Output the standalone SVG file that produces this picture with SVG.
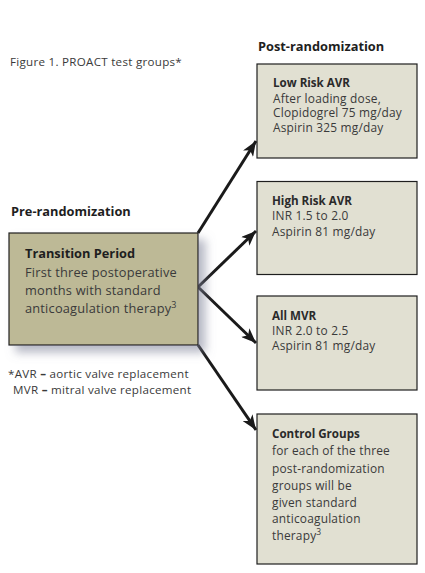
<svg xmlns="http://www.w3.org/2000/svg" width="425" height="573" viewBox="0 0 425 573">
<style>
text{font-family:"Open Sans","Noto Sans","Liberation Sans",sans-serif;fill:#3a3a3a}
.h{font-weight:bold;fill:#1e1e1e;font-size:12.8px}
.hb{font-weight:bold;fill:#2a2a2a;font-size:11.6px}
.b{font-size:11.9px;letter-spacing:0.2px}
.t{font-size:12.8px;letter-spacing:0.2px}
.s{font-size:11.6px;letter-spacing:0.28px}
.post{fill:#e1e0d2;stroke:#1e1e1e;stroke-width:1.2}
.pre{fill:#bdb996;stroke:#1e1e1e;stroke-width:1.2}
.c{stroke:#1a1a1a;stroke-width:3;fill:none;marker-end:url(#ah)}
</style>
<defs>
<marker id="ah" markerUnits="userSpaceOnUse" markerWidth="16" markerHeight="12" refX="15" refY="6" orient="auto">
<path d="M0,0 L15,6 L0,12 L4,6 Z" fill="#1a1a1a"/>
</marker>
<filter id="sh" x="-10%" y="-10%" width="130%" height="140%">
<feGaussianBlur in="SourceAlpha" stdDeviation="5"/>
<feOffset dx="7" dy="7" result="o"/>
<feFlood flood-color="#7c8096" flood-opacity="0.55"/>
<feComposite in2="o" operator="in"/>
<feMerge><feMergeNode/><feMergeNode in="SourceGraphic"/></feMerge>
</filter>
</defs>
<rect width="425" height="573" fill="#ffffff"/>
<text class="s" x="10" y="66">Figure 1. PROACT test groups*</text>
<text class="h" x="258" y="51">Post-randomization</text>
<text class="h" x="11" y="216">Pre-randomization</text>
<g id="connectors">
<line class="c" x1="198" y1="233" x2="256" y2="141"/>
<line class="c" x1="198" y1="287" x2="256" y2="231"/>
<line class="c" x1="198" y1="287" x2="256" y2="343"/>
<line class="c" x1="198" y1="345" x2="256" y2="430"/>
</g>
<g id="transition">
<rect class="pre" x="9" y="233" width="189" height="112" filter="url(#sh)"/>
<text class="h" x="25" y="258">Transition Period</text>
<text class="t" x="25" y="277">First three postoperative</text>
<text class="t" x="25" y="295">months with standard</text>
<text class="t" x="25" y="313">anticoagulation therapy<tspan font-size="9" dy="-5">3</tspan></text>
</g>
<g id="footnote">
<text class="s" x="8" y="378">*AVR <tspan font-weight="bold">–</tspan> aortic valve replacement</text>
<text class="s" x="13" y="394">MVR <tspan font-weight="bold">–</tspan> mitral valve replacement</text>
</g>
<g id="lowrisk">
<rect class="post" x="257" y="64" width="160" height="94"/>
<text class="hb" x="273" y="87">Low Risk AVR</text>
<text class="b" x="273" y="102.5">After loading dose,</text>
<text class="b" x="273" y="117">Clopidogrel 75 mg/day</text>
<text class="b" x="273" y="131.5">Aspirin 325 mg/day</text>
</g>
<g id="highrisk">
<rect class="post" x="257" y="181.5" width="160" height="93"/>
<text class="hb" x="272" y="205">High Risk AVR</text>
<text class="b" x="272" y="220">INR 1.5 to 2.0</text>
<text class="b" x="272" y="235.5">Aspirin 81 mg/day</text>
</g>
<g id="allmvr">
<rect class="post" x="257" y="296" width="160" height="94"/>
<text class="hb" x="272" y="320">All MVR</text>
<text class="b" x="272" y="334.5">INR 2.0 to 2.5</text>
<text class="b" x="272" y="350">Aspirin 81 mg/day</text>
</g>
<g id="control">
<rect class="post" x="257" y="414" width="160" height="150"/>
<text class="hb" x="272" y="437.5">Control Groups</text>
<text class="b" x="272" y="455">for each of the three</text>
<text class="b" x="272" y="473">post-randomization</text>
<text class="b" x="272" y="490">groups will be</text>
<text class="b" x="272" y="506.5">given standard</text>
<text class="b" x="272" y="523">anticoagulation</text>
<text class="b" x="272" y="539.5">therapy<tspan font-size="8.5" dy="-4.5">3</tspan></text>
</g>
</svg>
